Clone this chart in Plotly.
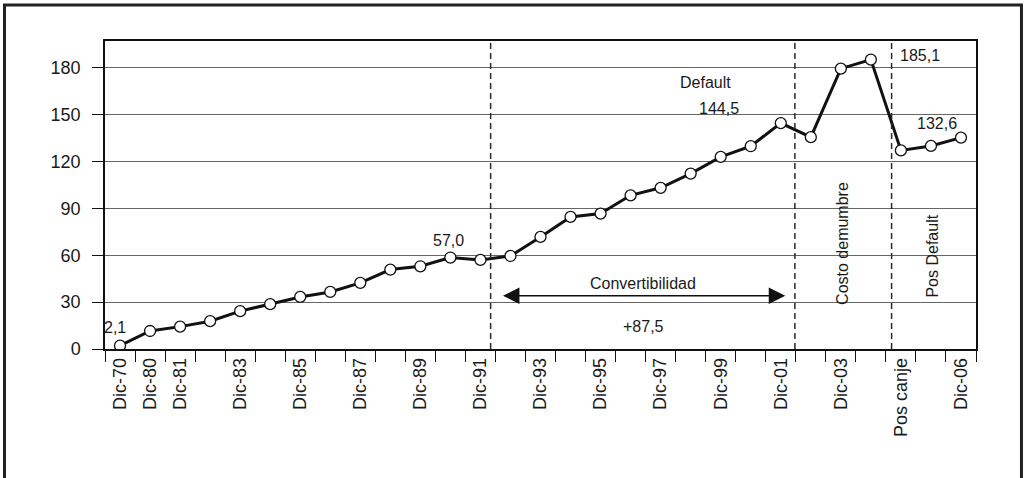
import plotly.graph_objects as go

# ---- data ----
periods = ["Dic-70", "Dic-80", "Dic-81", "Dic-82", "Dic-83", "Dic-84", "Dic-85", "Dic-86",
           "Dic-87", "Dic-88", "Dic-89", "Dic-90", "Dic-91", "Dic-92", "Dic-93", "Dic-94",
           "Dic-95", "Dic-96", "Dic-97", "Dic-98", "Dic-99", "Dic-00", "Dic-01", "Dic-02",
           "Dic-03", "Dic-04", "Pos canje", "Pos Default", "Dic-06"]
values = [2.1, 11.5, 14.3, 17.8, 24.2, 28.7, 33.3, 36.5, 42.3, 50.8, 52.9, 58.5, 57.0,
          59.5, 71.7, 84.5, 86.6, 98.3, 103.1, 112.2, 122.9, 129.7, 144.5, 135.5,
          179.3, 185.1, 127.0, 129.9, 135.2]
shown_labels = ["Dic-70", "Dic-80", "Dic-81", "", "Dic-83", "", "Dic-85", "", "Dic-87", "",
                "Dic-89", "", "Dic-91", "", "Dic-93", "", "Dic-95", "", "Dic-97", "",
                "Dic-99", "", "Dic-01", "", "Dic-03", "", "Pos canje", "", "Dic-06"]
y_ticks = [0, 30, 60, 90, 120, 150, 180]
period_breaks = [12.34, 22.47, 25.69]

x = list(range(len(periods)))
FONT = "Liberation Sans, Arial, sans-serif"
TXT = "#1a1a1a"

fig = go.Figure()
fig.add_trace(go.Scatter(
    x=x, y=values, mode="lines+markers",
    line=dict(color="#111111", width=3),
    marker=dict(size=11, color="white", line=dict(color="#111111", width=1.3)),
    hovertext=periods, showlegend=False))

shapes = []
for b in period_breaks:
    shapes.append(dict(type="line", xref="x", yref="y", x0=b, x1=b, y0=0, y1=197,
                       line=dict(color="#2a2a2a", width=1.5, dash="6px,4px")))
# outer frame
shapes.append(dict(type="rect", xref="paper", yref="paper", x0=-0.1154, x1=1.0522,
                   y0=-0.6, y1=1.117, line=dict(color="#222222", width=3),
                   fillcolor="rgba(0,0,0,0)", layer="below"))

def txt(xv, yv, s, angle=0, size=16):
    return dict(x=xv, y=yv, xref="x", yref="y", text=s, showarrow=False,
                textangle=angle, font=dict(family=FONT, size=size, color=TXT))

annotations = [
    txt(-0.16, 13.5, "2,1"),
    txt(10.93, 69.6, "57,0"),
    txt(17.41, 41.6, "Convertibilidad"),
    txt(17.42, 14.1, "+87,5"),
    txt(19.48, 170.4, "Default"),
    txt(19.93, 153.6, "144,5"),
    txt(26.64, 187.5, "185,1"),
    txt(27.2, 144.4, "132,6"),
    txt(24.03, 67.7, "Costo demumbre", angle=-90),
    txt(27.05, 59.4, "Pos Default", angle=-90),
    dict(x=22.15, y=34, ax=12.7, ay=34, xref="x", yref="y", axref="x", ayref="y",
         text="", showarrow=True, arrowside="end+start", arrowhead=2,
         arrowsize=2.2, arrowwidth=1.5, arrowcolor="#111111"),
]

fig.update_layout(
    width=1026, height=478,
    margin=dict(l=105, r=50, t=41, b=129),
    paper_bgcolor="white", plot_bgcolor="white",
    font=dict(family=FONT, size=18, color=TXT),
    shapes=shapes, annotations=annotations,
    xaxis=dict(range=[-0.5, 28.5], tickmode="array", tickvals=x, ticktext=shown_labels,
               tickangle=-90, ticks="", showgrid=False, zeroline=False,
               showline=True, mirror=True, linecolor="#111111", linewidth=1.5,
               tickfont=dict(family=FONT, size=18, color=TXT),
               minor=dict(tickmode="array", tickvals=[i - 0.5 for i in range(len(periods) + 1)],
                          ticks="outside", ticklen=11, tickwidth=1, tickcolor="#111111",
                          showgrid=False)),
    yaxis=dict(range=[0, 197], tickmode="array", tickvals=y_ticks,
               ticks="outside", ticklen=11, tickwidth=1, tickcolor="#111111",
               showgrid=True, gridcolor="#666666", gridwidth=1, zeroline=False,
               showline=True, mirror=True, linecolor="#111111", linewidth=1.5,
               tickfont=dict(family=FONT, size=18, color=TXT), ticklabelstandoff=8),
)

fig.write_html("out.html", config={"displayModeBar": False},
               post_script="document.body.style.margin='0';document.body.style.overflow='hidden';")
